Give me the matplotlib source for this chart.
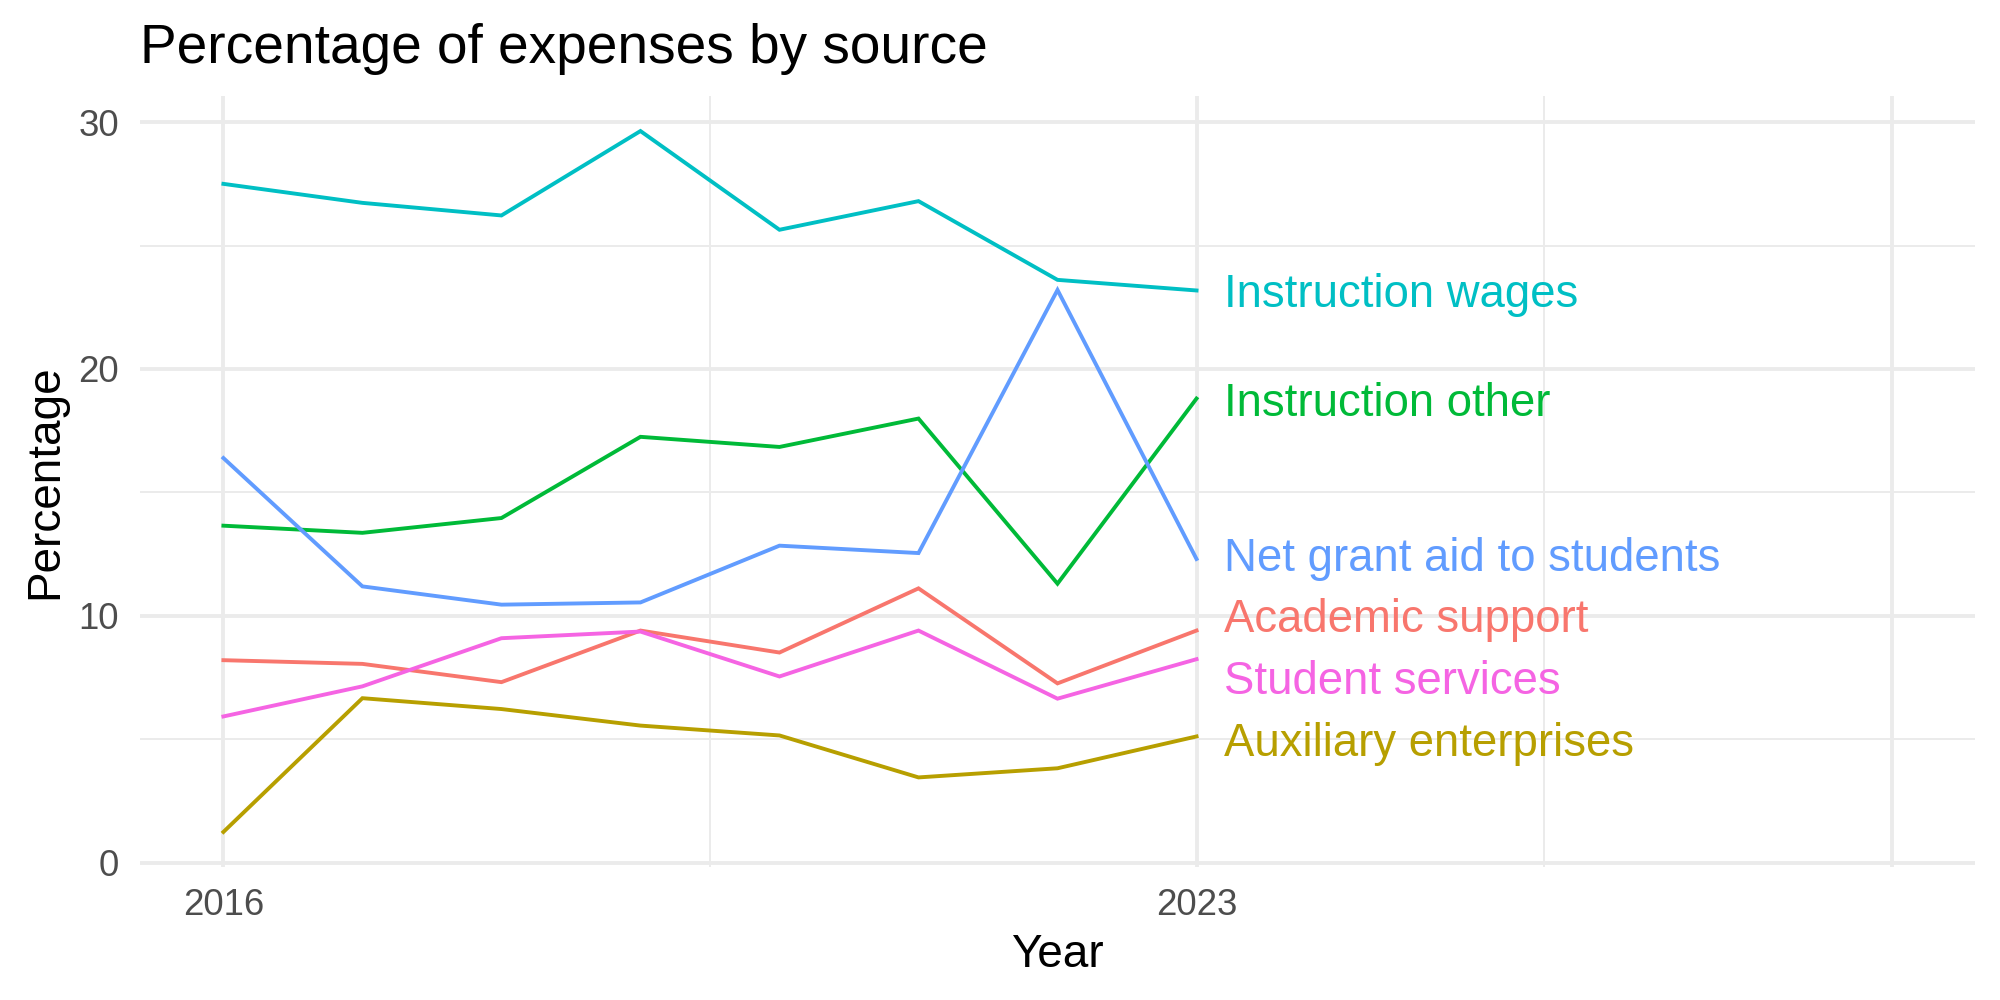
import matplotlib
matplotlib.use("Agg")
import matplotlib.pyplot as plt
import numpy as np

# data
years = [2016, 2017, 2018, 2019, 2020, 2021, 2022, 2023]
sources = ["Instruction wages", "Instruction other", "Net grant aid to students",
           "Academic support", "Student services", "Auxiliary enterprises"]
instruction_wages = [27.5, 26.73, 26.22, 29.64, 25.64, 26.8, 23.61, 23.18]
instruction_other = [13.65, 13.36, 13.96, 17.25, 16.84, 17.99, 11.3, 18.8]
net_grant_aid = [16.39, 11.19, 10.45, 10.54, 12.84, 12.54, 23.2, 12.3]
academic_support = [8.2, 8.05, 7.31, 9.4, 8.51, 11.11, 7.26, 9.4]
student_services = [5.92, 7.14, 9.09, 9.36, 7.54, 9.4, 6.64, 8.24]
auxiliary_enterprises = [1.24, 6.66, 6.22, 5.55, 5.15, 3.45, 3.82, 5.11]
series = [instruction_wages, instruction_other, net_grant_aid,
          academic_support, student_services, auxiliary_enterprises]
colors = ["#00BFC4", "#00BA38", "#619CFF", "#F8766D", "#F564E3", "#B79F00"]

x_breaks = [2016, 2023, 2028]
x_labels = ["2016", "2023", ""]
y_breaks = [0, 10, 20, 30]

plt.rcParams["font.family"] = ["Liberation Sans", "DejaVu Sans"]

fig = plt.figure(figsize=(10, 5), dpi=200)
ax = fig.add_axes([0.07, 0.133, 0.9175, 0.771])

# ggplot-like minimal grid
for s in ax.spines.values():
    s.set_visible(False)
ax.set_xticks(x_breaks)
ax.set_xticklabels(x_labels)
ax.set_xticks([2019.5, 2025.5], minor=True)
ax.set_yticks(y_breaks)
ax.set_yticks([5, 15, 25], minor=True)
ax.grid(which="major", color="#EBEBEB", lw=1.4)
ax.grid(which="minor", color="#EBEBEB", lw=0.7)
ax.set_axisbelow(True)
ax.tick_params(which="both", length=0, pad=7.5, labelsize=13.2, labelcolor="#4D4D4D")

for vals, col in zip(series, colors):
    ax.plot(years, vals, color=col, lw=1.4, solid_joinstyle="miter")

# simple repel of end labels
ends = np.array([v[-1] for v in series], dtype=float)
pos = ends.copy()
order = np.argsort(pos)
gap = 2.5
for _ in range(200):
    for a, b in zip(order[:-1], order[1:]):
        d = pos[b] - pos[a]
        if d < gap:
            shift = (gap - d) / 2
            pos[a] -= shift
            pos[b] += shift

for name, y, col in zip(sources, pos, colors):
    ax.text(years[-1] + 0.2, y, name, color=col, fontsize=16.4, ha="left",
            va="center_baseline")

ax.set_xlim(2015.4, 2028.6)
ax.set_ylim(-0.18, 31.06)

fig.text(0.07, 0.937, "Percentage of expenses by source", fontsize=19.8,
         ha="left", va="baseline")
fig.text(0.5285, 0.033, "Year", fontsize=16.5, ha="center", va="baseline")
fig.text(0.0285, 0.5185, "Percentage", fontsize=16.5, rotation=90,
         rotation_mode="anchor", ha="center", va="baseline")

fig.savefig("out.png", dpi=200, facecolor="white")
